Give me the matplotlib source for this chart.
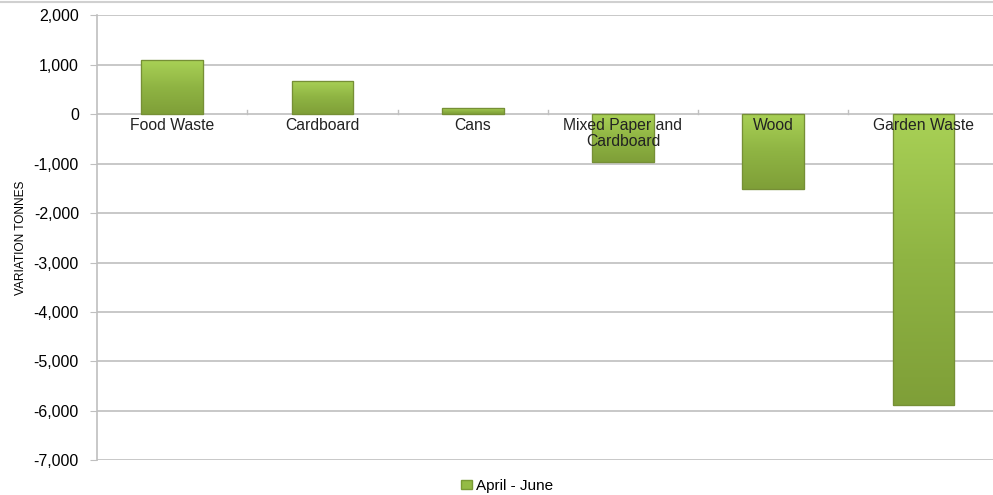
import numpy as np
import matplotlib
matplotlib.use('Agg')
import matplotlib.pyplot as plt
from matplotlib.colors import LinearSegmentedColormap
from matplotlib.ticker import FuncFormatter

plt.rcParams['font.family'] = ['Liberation Sans', 'DejaVu Sans']

categorias = ['Food Waste', 'Cardboard', 'Cans', 'Mixed Paper and\nCardboard', 'Wood', 'Garden Waste']
variacao = [1090, 670, 120, -970, -1520, -5890]
serie = 'April - June'

fig = plt.figure(figsize=(9.93, 4.95), dpi=100)
ax = fig.add_axes([0.0977, 0.07, 0.908, 0.899])

x = np.arange(len(categorias))
largura = 0.41
barras = ax.bar(x, variacao, width=largura, color='#94bb45', edgecolor='#7a9a35',
                linewidth=0.8, label=serie, zorder=3)

# degradê vertical dentro de cada barra
cmap = LinearSegmentedColormap.from_list('verde', ['#a9d156', '#8fb443', '#7f9f38'])
grad = np.linspace(0, 1, 256).reshape(-1, 1)
for b in barras:
    x0, y0 = b.get_x(), b.get_y()
    w, h = b.get_width(), b.get_height()
    y_lo, y_hi = min(y0, y0 + h), max(y0, y0 + h)
    img = ax.imshow(grad, cmap=cmap, aspect='auto', extent=[x0, x0 + w, y_lo, y_hi],
                    origin='upper', zorder=3.5)
    img.set_clip_path(b)
    ax.add_patch(plt.Rectangle((x0, y_lo), w, y_hi - y_lo, fill=False,
                               edgecolor='#768f36', linewidth=0.9, zorder=4))

ax.set_xlim(-0.5, len(categorias) - 0.5)
ax.set_ylim(-7000, 2000)
ax.set_yticks(np.arange(-7000, 2001, 1000))
ax.yaxis.set_major_formatter(FuncFormatter(lambda v, p: f'{int(v):,}'))
ax.grid(axis='y', color='#bfbfbf', linewidth=1.2, zorder=0)
ax.tick_params(axis='y', length=5, color='#bfbfbf', labelsize=11.5, pad=8)
ax.set_ylabel('VARIATION TONNES', fontsize=8.6, labelpad=5)

# rótulos das categorias sobre a linha do zero
ax.set_xticks([])
for xi, nome in zip(x, categorias):
    ax.text(xi, -70, nome, ha='center', va='top', fontsize=11.3, color='#222222',
            linespacing=1.15, zorder=5)
for xb in np.arange(0.5, len(categorias) - 0.5, 1):
    ax.plot([xb, xb], [0, 80], color='#bfbfbf', linewidth=1, zorder=1)

for lado in ['top', 'right', 'bottom']:
    ax.spines[lado].set_visible(False)
ax.spines['left'].set_color('#bfbfbf')
ax.spines['left'].set_linewidth(1.2)

leg = ax.legend(handles=[plt.Rectangle((0, 0), 1, 1, facecolor='#94bb45', edgecolor='#7a9a35')],
                labels=[serie], loc='center', bbox_to_anchor=(0.455, -0.057),
                frameon=False, fontsize=11, handlelength=0.7, handleheight=0.55,
                handletextpad=0.3, borderpad=0)

fig.add_artist(plt.Line2D([0, 1], [0.996, 0.996], color='#d0d0d0', linewidth=1.5))

fig.savefig('out.png', dpi=100)
